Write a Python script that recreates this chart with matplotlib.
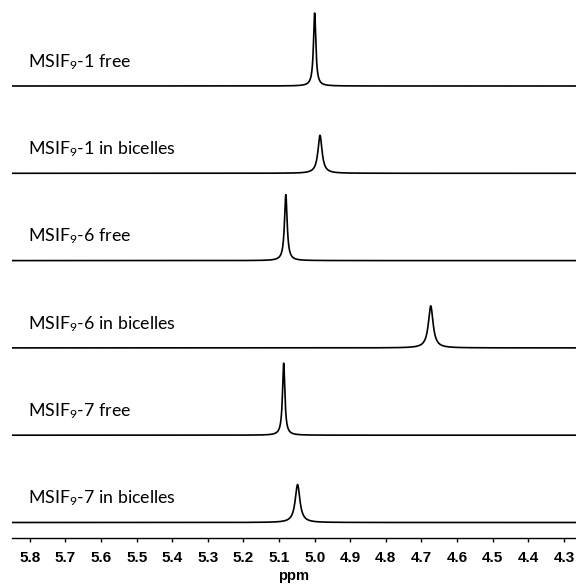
import numpy as np
import matplotlib
matplotlib.use('Agg')
import matplotlib.pyplot as plt

plt.rcParams['mathtext.fontset'] = 'custom'
plt.rcParams['mathtext.rm'] = 'Lato'
plt.rcParams['mathtext.it'] = 'Lato'

# one spectrum per row, top to bottom
labels = ['MSIF$_9$-1 free', 'MSIF$_9$-1 in bicelles', 'MSIF$_9$-6 free',
          'MSIF$_9$-6 in bicelles', 'MSIF$_9$-7 free', 'MSIF$_9$-7 in bicelles']
peak_ppm = [5.000, 4.985, 5.081, 4.674, 5.087, 5.048]
peak_height = [73, 38, 66, 42, 72, 38]
peak_hwhm = [0.004, 0.007, 0.0045, 0.008, 0.004, 0.008]

tick_values = [5.8, 5.7, 5.6, 5.5, 5.4, 5.3, 5.2, 5.1, 5.0, 4.9, 4.8, 4.7, 4.6, 4.5, 4.4, 4.3]

row_step = 87.3
row_base = 15

fig = plt.figure(figsize=(5.76, 5.84), dpi=100)
ax = fig.add_axes([12 / 576, 46.5 / 584, 1 - 12 / 576, 1 - 46.5 / 584])

ppm = np.linspace(5.86, 4.25, 4000)
n = len(labels)
for i in range(n):
    offset = row_base + row_step * (n - 1 - i)
    w = peak_hwhm[i]
    y = peak_height[i] * w ** 2 / ((ppm - peak_ppm[i]) ** 2 + w ** 2)
    ax.plot(ppm, y + offset, color='black', lw=1.2)
    ax.text(5.805, offset + 19, labels[i], fontsize=12.8, family='Lato',
            ha='left', va='baseline')

ax.set_xlim(5.85, 4.266)
ax.set_ylim(0, 537.5)
for s in ['top', 'left', 'right']:
    ax.spines[s].set_visible(False)
ax.spines['bottom'].set_linewidth(1.0)
ax.set_yticks([])
ax.set_xticks(tick_values)
ax.set_xticklabels([f'{t:.1f}' for t in tick_values], fontsize=11,
                   fontweight='bold', family='Liberation Sans')
ax.tick_params(axis='x', direction='out', length=3, width=1.0, pad=6.5)
ax.set_xlabel('ppm', fontsize=10.5, fontweight='bold', family='Liberation Sans',
              labelpad=3)

fig.savefig('out.png', dpi=100)
